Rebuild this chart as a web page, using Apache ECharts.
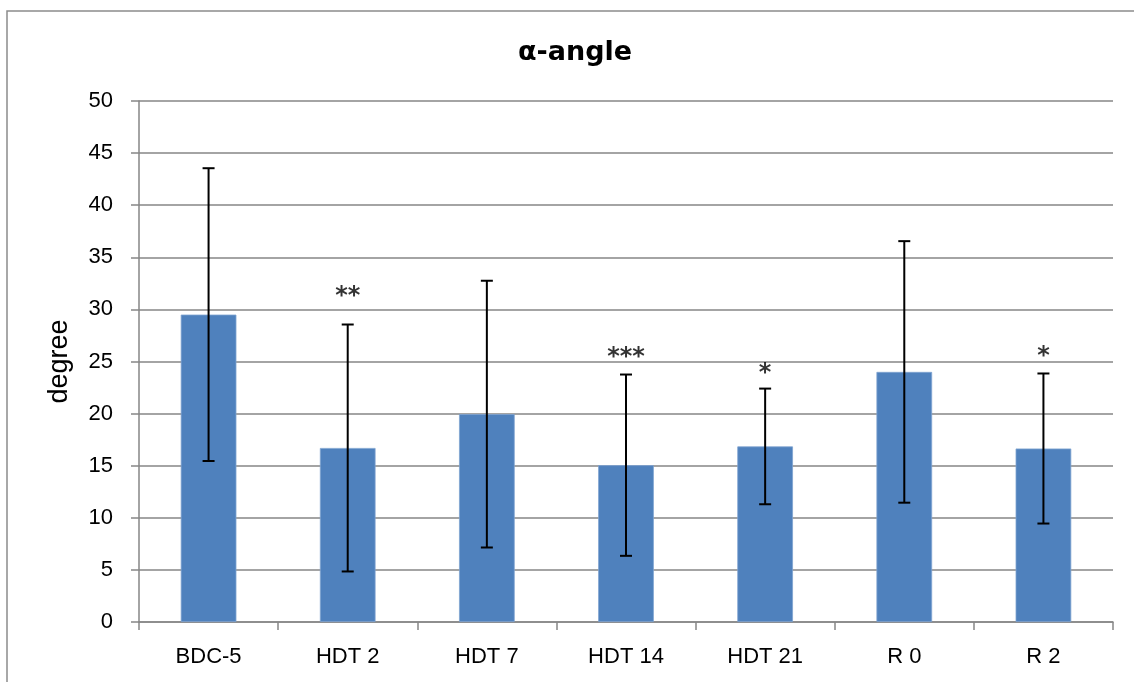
<!DOCTYPE html>
<html>
<head>
<meta charset="utf-8">
<style>
  html, body { margin: 0; padding: 0; background: #fff; }
  #chart { width: 1134px; height: 682px; }
</style>
<script src="https://cdn.jsdelivr.net/npm/echarts@6/dist/echarts.min.js"></script>
</head>
<body>
<div id="chart"></div>
<script>
// Group labels along the x axis
var categories = ['BDC-5', 'HDT 2', 'HDT 7', 'HDT 14', 'HDT 21', 'R 0', 'R 2'];
// Mean α-angle (degree) per group
var meanValues = [29.5, 16.7, 19.95, 15.05, 16.85, 24.0, 16.65];
// Standard deviation per group (symmetric error bars)
var sdValues = [14.05, 11.85, 12.8, 8.7, 5.55, 12.55, 7.2];
// Significance marks shown above the error bars
var sigMarks = ['', '**', '', '***', '*', '', '*'];
// Height (degree) at which each significance mark is placed
var sigLevels = [0, 31.2, 0, 25.35, 23.8, 0, 25.5];
// Y-axis ticks
var yMin = 0, yMax = 50, yStep = 5;

var labelFont = '"Liberation Sans", Arial, sans-serif';

var errorData = categories.map(function (c, i) {
  return [i, meanValues[i] - sdValues[i], meanValues[i] + sdValues[i]];
});
var sigData = [];
categories.forEach(function (c, i) {
  if (sigMarks[i]) sigData.push({ value: [i, sigLevels[i]], mark: sigMarks[i] });
});

var chart = echarts.init(document.getElementById('chart'), null, { renderer: 'canvas' });
chart.setOption({
  animation: false,
  backgroundColor: '#fff',
  graphic: [{
    type: 'rect',
    shape: { x: 7, y: 11, width: 1200, height: 800 },
    style: { fill: 'none', stroke: '#8c8c8c', lineWidth: 1.5 },
    silent: true
  }],
  title: {
    text: 'α-angle',
    left: 513,
    top: 34,
    textStyle: { fontFamily: '"DejaVu Sans", sans-serif', fontWeight: 'bold', fontSize: 27, color: '#000' }
  },
  grid: { left: 139, right: 21, top: 101, bottom: 60 },
  xAxis: {
    type: 'category',
    data: categories,
    axisLine: { lineStyle: { color: '#868686', width: 1.5 } },
    axisTick: { show: true, length: 8, alignWithLabel: false, lineStyle: { color: '#868686', width: 1.5 } },
    axisLabel: { fontFamily: labelFont, fontSize: 22, color: '#000', margin: 24 },
    splitLine: { show: false }
  },
  yAxis: {
    type: 'value',
    min: yMin,
    max: yMax,
    interval: yStep,
    name: 'degree',
    nameLocation: 'middle',
    nameGap: 66,
    nameTextStyle: { fontFamily: labelFont, fontSize: 27, color: '#000' },
    axisLine: { show: true, lineStyle: { color: '#868686', width: 1.5 } },
    axisTick: { show: true, length: 8, lineStyle: { color: '#868686', width: 1.5 } },
    axisLabel: { fontFamily: labelFont, fontSize: 22, color: '#000', margin: 26 },
    splitLine: { lineStyle: { color: '#868686', width: 1.5 } }
  },
  series: [
    {
      type: 'bar',
      data: meanValues,
      barWidth: '40%',
      itemStyle: { color: '#4F81BD', borderColor: '#7FA3D0', borderWidth: 0.8 },
      z: 2
    },
    {
      type: 'custom',
      data: errorData,
      z: 5,
      renderItem: function (params, api) {
        var x = api.value(0);
        var lo = api.coord([x, api.value(1)]);
        var hi = api.coord([x, api.value(2)]);
        var cap = 6;
        var style = { stroke: '#000', lineWidth: 2 };
        return {
          type: 'group',
          children: [
            { type: 'line', shape: { x1: lo[0], y1: lo[1], x2: hi[0], y2: hi[1] }, style: style },
            { type: 'line', shape: { x1: hi[0] - cap, y1: hi[1], x2: hi[0] + cap, y2: hi[1] }, style: style },
            { type: 'line', shape: { x1: lo[0] - cap, y1: lo[1], x2: lo[0] + cap, y2: lo[1] }, style: style }
          ]
        };
      }
    },
    {
      type: 'scatter',
      data: sigData,
      symbolSize: 0,
      z: 6,
      label: {
        show: true,
        position: 'inside',
        formatter: function (p) { return p.data.mark; },
        fontFamily: '"DejaVu Sans", sans-serif',
        fontWeight: 'bold',
        fontSize: 24,
        color: '#000'
      }
    }
  ]
});
</script>
</body>
</html>
